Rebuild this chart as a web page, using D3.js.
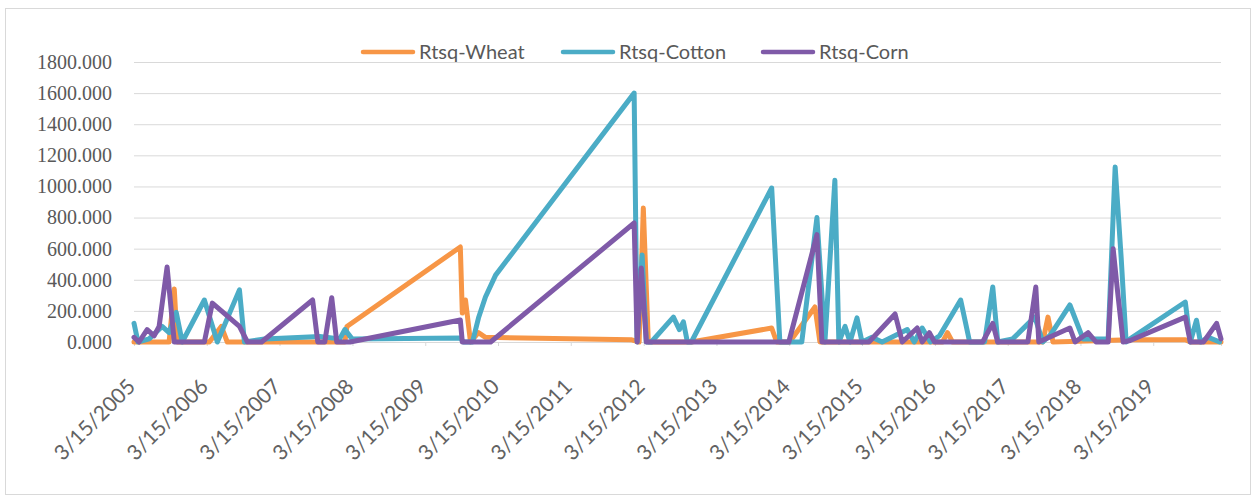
<!DOCTYPE html>
<html>
<head>
<meta charset="utf-8">
<script src="https://cdn.jsdelivr.net/npm/d3@7"></script>
<style>
  html, body { margin: 0; padding: 0; background: #ffffff; }
  svg { display: block; }
</style>
</head>
<body>
<svg id="chart" width="1258" height="498"></svg>
<script>
// ---------------- DATA ----------------
const seriesNames = ["Rtsq-Wheat", "Rtsq-Cotton", "Rtsq-Corn"];

const wheatDates = ["2005-03-15","2005-09-07","2005-10-03","2005-10-18","2006-03-28","2006-05-27","2006-06-26",
  "2008-02-06","2008-02-16","2009-09-07","2009-09-17","2009-10-03","2009-10-28","2009-12-07","2010-01-11",
  "2012-01-11","2012-02-21","2012-03-13","2012-04-07","2012-11-09","2013-12-17","2014-01-11","2014-03-17",
  "2014-07-22","2014-08-16","2016-04-22","2016-05-17","2016-06-11","2017-09-07","2017-10-03","2017-10-28",
  "2018-11-19","2019-08-23","2019-09-17","2020-02-18"];
const wheatValues = [0,0,340,0,0,100,0,
  0,100,611,186,270,0,60,30,
  15,0,861,0,0,90,0,0,
  225,0,0,60,0,0,160,0,
  15,15,0,0];

const cottonDates = ["2005-03-15","2005-04-04","2005-05-30","2005-08-03","2005-09-07","2005-10-13","2005-11-12",
  "2006-03-03","2006-05-07","2006-08-26","2006-09-20","2006-12-30","2007-10-03","2008-01-11","2008-02-06",
  "2008-03-13","2009-09-07","2009-09-23","2009-11-07","2009-12-07","2010-01-11","2010-03-03","2012-01-27",
  "2012-02-11","2012-03-07","2012-03-28","2012-04-22","2012-08-11","2012-09-10","2012-09-30","2012-10-20",
  "2012-11-09","2013-12-17","2014-01-27","2014-05-17","2014-08-01","2014-09-10","2014-10-30","2014-11-19",
  "2014-12-20","2015-01-14","2015-02-18","2015-03-15","2015-05-04","2015-06-24","2015-10-28","2015-12-02",
  "2016-01-11","2016-02-21","2016-04-07","2016-07-22","2016-09-05","2016-11-19","2016-12-30","2017-01-24",
  "2017-04-09","2017-07-29","2017-09-07","2017-10-18","2018-01-21","2018-03-28","2018-08-01","2018-09-05",
  "2018-10-05","2018-10-30","2018-11-19","2019-08-23","2019-09-17","2019-10-18","2019-11-07","2019-12-17",
  "2020-02-11"];
const cottonValues = [120,0,20,100,60,190,0,
  270,0,335,0,20,35,20,80,
  20,25,0,0,154,289,430,1600,
  0,560,0,0,160,80,130,0,
  0,990,0,0,800,0,1040,0,
  100,0,155,0,30,0,80,0,
  90,0,40,270,0,0,353,0,
  20,160,0,50,238,20,20,1125,
  546,0,20,257,0,140,0,30,
  0];

const cornDates = ["2005-03-15","2005-04-09","2005-05-20","2005-06-24","2005-07-19","2005-08-28","2005-10-03",
  "2006-03-03","2006-04-12","2006-08-26","2006-10-05","2006-12-15","2007-08-28","2007-09-23","2007-10-28",
  "2007-12-02","2007-12-27","2008-03-03","2009-09-07","2009-09-17","2010-02-06","2012-01-27","2012-02-11",
  "2012-03-03","2012-03-28","2014-03-13","2014-08-01","2014-08-26","2015-04-19","2015-08-28","2015-10-03",
  "2015-12-17","2016-01-11","2016-02-16","2016-03-13","2016-11-09","2016-12-30","2017-01-24","2017-06-24",
  "2017-08-03","2017-08-18","2018-01-21","2018-02-16","2018-04-22","2018-06-01","2018-08-01","2018-08-26",
  "2018-09-15","2018-10-15","2018-11-19","2019-08-23","2019-09-17","2019-11-22","2020-01-27","2020-02-18"];
const cornValues = [30,0,80,40,100,482,0,
  0,250,100,0,0,270,0,0,
  285,0,0,141,0,0,765,0,
  475,0,0,690,0,0,180,0,
  90,0,60,0,0,120,0,0,
  353,0,90,0,60,0,0,600,
  350,0,10,160,0,0,120,20];

const yTicks = [0, 200, 400, 600, 800, 1000, 1200, 1400, 1600, 1800];
const xTickDates = ["2005-03-15","2006-03-15","2007-03-15","2008-03-15","2009-03-15","2010-03-15","2011-03-15",
  "2012-03-15","2013-03-15","2014-03-15","2015-03-15","2016-03-15","2017-03-15","2018-03-15","2019-03-15"];
const xDomain = ["2005-03-15", "2020-02-18"];

const seriesColors = ["#F79646", "#4BACC6", "#7F5AA8"];

// ---------------- DRAW ----------------
const parse = d3.timeParse("%Y-%m-%d");
const fmt = d => `${d.getMonth() + 1}/${d.getDate()}/${d.getFullYear()}`;

const svg = d3.select("#chart");

// chart frame
svg.append("rect")
  .attr("x", 5.5).attr("y", 8.5)
  .attr("width", 1245).attr("height", 486)
  .attr("fill", "#ffffff").attr("stroke", "#d9d9d9").attr("stroke-width", 1);

const x = d3.scaleTime().domain(xDomain.map(parse)).range([134, 1221]);
const y = d3.scaleLinear().domain([0, 1800]).range([342, 62]);

// gridlines
const yAxis = d3.axisLeft(y).tickValues(yTicks).tickSize(-(1221 - 134)).tickPadding(22)
  .tickFormat(d3.format(".3f"));
const gy = svg.append("g").attr("transform", "translate(134,0)").call(yAxis);
gy.select(".domain").remove();
gy.selectAll(".tick line").attr("stroke", "#d9d9d9").attr("stroke-width", 1);
gy.selectAll(".tick text")
  .attr("fill", "#595959")
  .style("font-family", "'Liberation Serif', 'DejaVu Serif', serif")
  .style("font-size", "20px");

// x axis
const xAxis = d3.axisBottom(x).tickValues(xTickDates.map(parse)).tickSize(4).tickFormat(fmt);
const gx = svg.append("g").attr("transform", `translate(0,${y(0)})`).call(xAxis);
gx.select(".domain").attr("stroke", "#d9d9d9");
gx.selectAll(".tick line").attr("stroke", "#d9d9d9");
gx.selectAll(".tick text")
  .attr("fill", "#626262")
  .style("font-family", "Lato, 'Open Sans', sans-serif")
  .style("font-size", "21px")
  .attr("text-anchor", "end")
  .attr("dy", null)
  .attr("y", 0)
  .attr("transform", "translate(2,46) rotate(-45)");

// lines
const series = [
  { name: seriesNames[0], dates: wheatDates, values: wheatValues, color: seriesColors[0] },
  { name: seriesNames[1], dates: cottonDates, values: cottonValues, color: seriesColors[1] },
  { name: seriesNames[2], dates: cornDates, values: cornValues, color: seriesColors[2] }
];

const line = d3.line().x(d => x(d[0])).y(d => y(d[1]));

series.forEach(s => {
  const pts = s.dates.map((d, i) => [parse(d), s.values[i]]);
  svg.append("path")
    .datum(pts)
    .attr("d", line)
    .attr("fill", "none")
    .attr("stroke", s.color)
    .attr("stroke-width", 5)
    .attr("stroke-linejoin", "round")
    .attr("stroke-linecap", "round");
});

// legend
const legendX = [363, 563, 763];
const legend = svg.append("g");
series.forEach((s, i) => {
  const g = legend.append("g").attr("transform", `translate(${legendX[i]},52)`);
  g.append("line").attr("x1", 0).attr("x2", 50).attr("y1", 0).attr("y2", 0)
    .attr("stroke", s.color).attr("stroke-width", 4.5).attr("stroke-linecap", "round");
  g.append("text").attr("x", 56).attr("y", 0).attr("dy", "0.35em")
    .attr("fill", "#595959")
    .style("font-family", "Lato, 'Open Sans', sans-serif")
    .style("font-size", "20px")
    .text(s.name);
});
</script>
</body>
</html>
